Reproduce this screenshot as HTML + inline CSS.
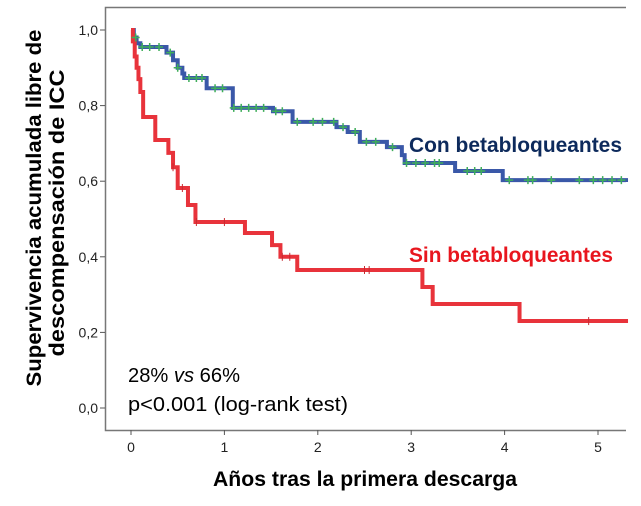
<!DOCTYPE html>
<html><head><meta charset="utf-8"><style>
body{margin:0;background:#fff}
svg{display:block;font-family:"Liberation Sans",Arial,sans-serif}
</style></head><body>
<svg id="chart" width="641" height="506" viewBox="0 0 641 506">
<rect x="0" y="0" width="641" height="506" fill="#fff"/>
<g id="axes"></g>
<g id="series"></g>
<text x="0" y="0" transform="translate(41,208) rotate(-90)" text-anchor="middle" font-size="21" font-weight="bold" fill="#000" textLength="357" lengthAdjust="spacingAndGlyphs">Supervivencia acumulada libre de</text>
<text x="0" y="0" transform="translate(64,213) rotate(-90)" text-anchor="middle" font-size="21" font-weight="bold" fill="#000" textLength="287" lengthAdjust="spacingAndGlyphs">descompensación de ICC</text>
<text x="213" y="486" font-size="21" font-weight="bold" fill="#000" textLength="304" lengthAdjust="spacingAndGlyphs">Años tras la primera descarga</text>
<text x="409" y="152" font-size="21" font-weight="bold" fill="#0d2a5c" textLength="213" lengthAdjust="spacingAndGlyphs">Con betabloqueantes</text>
<text x="409" y="262" font-size="21" font-weight="bold" fill="#e8161e" textLength="204" lengthAdjust="spacingAndGlyphs">Sin betabloqueantes</text>
<text x="128" y="382" font-size="20" fill="#000" textLength="112" lengthAdjust="spacingAndGlyphs">28% <tspan font-style="italic">vs</tspan> 66%</text>
<text x="128" y="411" font-size="20" fill="#000" textLength="220" lengthAdjust="spacingAndGlyphs">p&lt;0.001 (log-rank test)</text>
</svg>
<script>
const xTicks=[0,1,2,3,4,5];
const yTicks=[0,0.2,0.4,0.6,0.8,1.0];
const yTickLabels=["0,0","0,2","0,4","0,6","0,8","1,0"];
const conT=[0,0.03,0.06,0.1,0.38,0.45,0.5,0.55,0.57,0.81,1.09,1.52,1.73,2.2,2.32,2.45,2.74,2.9,2.93,3.47,3.98,5.3];
const conS=[1,0.98,0.965,0.955,0.94,0.92,0.9,0.885,0.873,0.846,0.794,0.785,0.757,0.743,0.73,0.704,0.69,0.669,0.648,0.627,0.603,0.598];
const sinT=[0,0.02,0.04,0.06,0.08,0.1,0.13,0.26,0.4,0.45,0.5,0.61,0.69,1.22,1.51,1.6,1.78,3.12,3.23,4.16,5.3];
const sinS=[1,0.97,0.93,0.9,0.87,0.836,0.77,0.709,0.675,0.637,0.582,0.537,0.492,0.463,0.431,0.4,0.365,0.32,0.275,0.23,0.225];
const conCensor=[0.05,0.12,0.2,0.3,0.42,0.5,0.62,0.7,0.76,0.9,0.98,1.1,1.18,1.26,1.34,1.42,1.55,1.62,1.78,1.95,2.05,2.17,2.27,2.4,2.52,2.62,2.8,2.95,3.05,3.15,3.25,3.3,3.6,3.68,3.75,4.05,4.25,4.3,4.5,4.8,4.95,5.05,5.15,5.25];
const sinCensor=[0.45,0.55,0.7,1.0,1.62,1.7,2.5,2.55,4.9];
const NS="http://www.w3.org/2000/svg";
const X=t=>131+t*93.4, Y=s=>408-s*378;
const axes=document.getElementById('axes'), ser=document.getElementById('series');
function mk(tag,a,p){const e=document.createElementNS(NS,tag);for(const k in a)e.setAttribute(k,a[k]);p.appendChild(e);return e;}
let f=mk('path',{d:'M626 7.5H105.5V430.5H626',fill:'none',stroke:'#777','stroke-width':1.5},axes);


yTicks.forEach((v,i)=>{
 let l=mk('line',{x1:100,x2:105,y1:Y(v),y2:Y(v),stroke:'#555'},axes);
 
 
 let t=mk('text',{x:98,y:Y(v)+5,'text-anchor':'end','font-size':14,fill:'#222'},axes);t.textContent=yTickLabels[i];
 
 
});
xTicks.forEach(v=>{
 let l=mk('line',{x1:X(v),x2:X(v),y1:430,y2:435,stroke:'#555'},axes);
 
 
 let t=mk('text',{x:X(v),y:452,'text-anchor':'middle','font-size':14,fill:'#222'},axes);t.textContent=v;
 
 
});
function stepPath(T,S){let d='M'+X(T[0])+' '+Y(S[0]);for(let i=1;i<T.length;i++){d+='H'+X(T[i])+'V'+Y(S[i]);}return d;}
function valAt(T,S,t){let s=S[0];for(let i=0;i<T.length;i++){if(T[i]<=t)s=S[i];}return s;}
let pb=mk('path',{d:stepPath(conT,conS),fill:'none',stroke:'#3a58a8','stroke-width':4},ser);


let pr=mk('path',{d:stepPath(sinT,sinS),fill:'none',stroke:'#e8333b','stroke-width':4},ser);


conCensor.forEach(t=>{const x=X(t),y=Y(valAt(conT,conS,t));
 let c=mk('path',{d:`M${x-4} ${y}H${x+4}M${x} ${y-4}V${y+4}`,stroke:'#3fae5a','stroke-width':1.5},ser);
 
 
});
sinCensor.forEach(t=>{const x=X(t),y=Y(valAt(sinT,sinS,t));
 let c=mk('path',{d:`M${x} ${y-4}V${y+4}`,stroke:'#c62a30','stroke-width':1},ser);
 
 
});
</script>
</body></html>
